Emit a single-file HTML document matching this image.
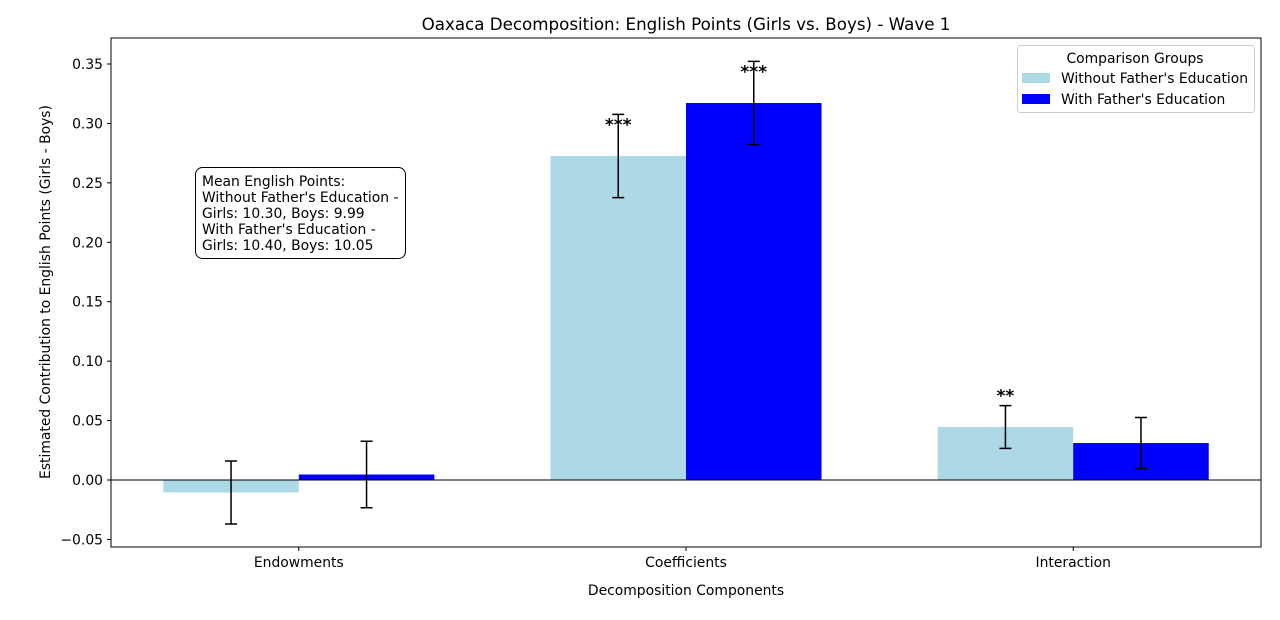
<!DOCTYPE html>
<html><head><meta charset="utf-8"><style>
body{margin:0;background:#fff;font-family:"Liberation Sans","DejaVu Sans",sans-serif;}
svg text{font-family:"DejaVu Sans","Liberation Sans",sans-serif;}
</style></head><body>
<svg id="chart" width="1280" height="615" xmlns="http://www.w3.org/2000/svg">
<rect width="1280" height="615" fill="#fff"/>
<text x="686" y="30" font-size="16.7" text-anchor="middle">Oaxaca Decomposition: English Points (Girls vs. Boys) - Wave 1</text>
<g id="plot"></g>
<rect x="111" y="38" width="1150" height="509" fill="none" stroke="#000" stroke-width="1"/>
<text x="686" y="595" font-size="13.9" text-anchor="middle">Decomposition Components</text>
<text transform="translate(50,292) rotate(-90)" font-size="13.9" text-anchor="middle">Estimated Contribution to English Points (Girls - Boys)</text>
<g>
<rect x="195.5" y="167.5" width="210" height="91" rx="7" fill="#fff" stroke="#000"/>
<text x="202" y="186" font-size="13.9">Mean English Points:</text>
<text x="202" y="202" font-size="13.9">Without Father's Education -</text>
<text x="202" y="218" font-size="13.9">Girls: 10.30, Boys: 9.99</text>
<text x="202" y="234" font-size="13.9">With Father's Education -</text>
<text x="202" y="250" font-size="13.9">Girls: 10.40, Boys: 10.05</text>
</g>
<g>
<rect x="1017.5" y="45.5" width="237" height="67" rx="3" fill="#fff" stroke="#ccc"/>
<text x="1135" y="63" font-size="13.9" text-anchor="middle">Comparison Groups</text>
<rect x="1022" y="73" width="28" height="10" fill="#add8e6"/>
<text x="1061" y="83" font-size="13.9">Without Father's Education</text>
<rect x="1022" y="94" width="28" height="10" fill="#0000ff"/>
<text x="1061" y="104" font-size="13.9">With Father's Education</text>
</g>
</svg>
<script>
const categories=["Endowments","Coefficients","Interaction"];
const withoutVals=[-0.0105,0.2726,0.0446];
const withVals=[0.0046,0.3172,0.0311];
const withoutErr=[0.0265,0.035,0.018];
const withErr=[0.028,0.035,0.0215];
const withoutSig=["","***","**"];
const withSig=["","***",""];
const yTicks=[-0.05,0,0.05,0.10,0.15,0.20,0.25,0.30,0.35];
const NS="http://www.w3.org/2000/svg";
const L=111,R=1261,T=38,B=547;
const xmin=-0.485,xmax=2.485,ymin=-0.05637,ymax=0.37187;
const xs=v=>L+(v-xmin)/(xmax-xmin)*(R-L);
const ys=v=>B-(v-ymin)/(ymax-ymin)*(B-T);
const g=document.getElementById('plot');
function mk(t,a){const e=document.createElementNS(NS,t);for(const k in a)e.setAttribute(k,a[k]);g.appendChild(e);return e;}
const bw=0.35;
yTicks.forEach(t=>{
 const y=ys(t);
 const l=mk('line',{x1:L-4,x2:L,y1:y,y2:y,stroke:'#000'});
 
 
 const tx=mk('text',{x:L-8,y:y+5,'font-size':13.9,'text-anchor':'end'});
 tx.textContent=(t<0?'\u2212':'')+Math.abs(t).toFixed(2);
 
 
});
function series(vals,off,color,name){
 vals.forEach((v,i)=>{
  const x0=xs(i+off-bw/2),x1=xs(i+off+bw/2);
  const r=mk('rect',{x:x0,y:Math.min(ys(v),ys(0)),width:x1-x0,height:Math.abs(ys(v)-ys(0)),fill:color});
  
  
 });
}
function errs(vals,errsA,sigs,off,name){
 vals.forEach((v,i)=>{
  const cx=xs(i+off),top=ys(v+errsA[i]),bot=ys(v-errsA[i]);
  const e=mk('path',{d:`M${cx},${top}V${bot}M${cx-6},${top}H${cx+6}M${cx-6},${bot}H${cx+6}`,stroke:'#000','stroke-width':1.5,fill:'none'});
  
  
  if(sigs[i]){
   const s=mk('text',{x:cx,y:ys(v+0.03)+10,'font-size':17,'font-weight':'bold','text-anchor':'middle'});
   s.textContent=sigs[i];
   
   
  }
 });
}
series(withoutVals,-bw/2,'#add8e6','without');
series(withVals,bw/2,'#0000ff','with');
const z=mk('line',{x1:L,x2:R,y1:ys(0),y2:ys(0),stroke:'#000','stroke-width':1});


errs(withoutVals,withoutErr,withoutSig,-bw/2,'without');
errs(withVals,withErr,withSig,bw/2,'with');
categories.forEach((c,i)=>{
 const x=xs(i);
 const l=mk('line',{x1:x,x2:x,y1:B,y2:B+4,stroke:'#000'});
 
 
 const t=mk('text',{x:x,y:B+20,'font-size':13.9,'text-anchor':'middle'});
 t.textContent=c;
 
 
});
</script>
</body></html>
